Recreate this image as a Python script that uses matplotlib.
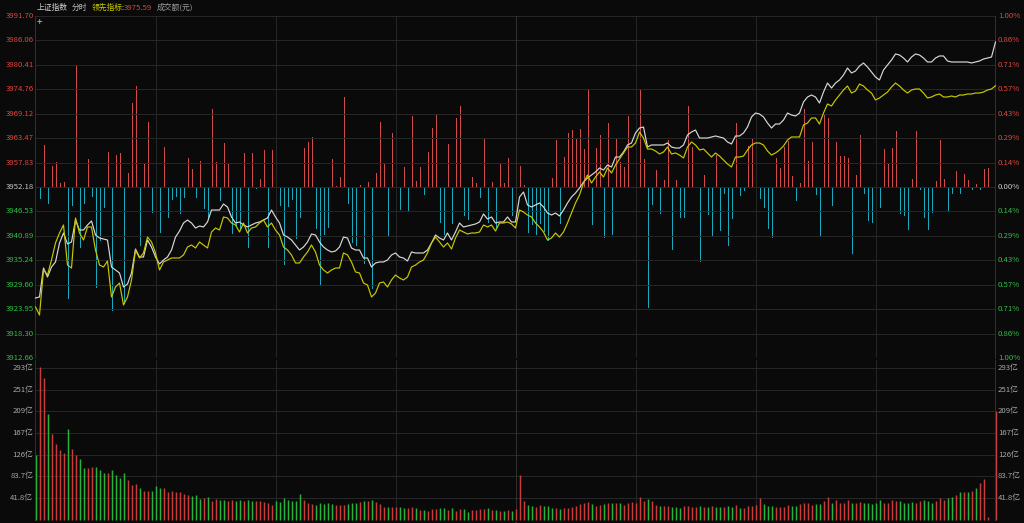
import matplotlib
matplotlib.use('Agg')
import matplotlib.pyplot as plt
import matplotlib.transforms as mtrans
import numpy as np

plt.rcParams['font.family'] = ['Noto Sans CJK SC', 'DejaVu Sans']

# ---------------- data ----------------
prev_close = 3952.18
price_ticks = [3991.70, 3986.06, 3980.41, 3974.76, 3969.12, 3963.47, 3957.83, 3952.18,
               3946.53, 3940.89, 3935.24, 3929.60, 3923.95, 3918.30, 3912.66]
pct_labels = ['1.00%', '0.86%', '0.71%', '0.57%', '0.43%', '0.29%', '0.14%', '0.00%',
              '0.14%', '0.29%', '0.43%', '0.57%', '0.71%', '0.86%', '1.00%']
vol_ticks = [293.0, 251.1, 209.3, 167.4, 125.6, 83.7, 41.86]
vol_labels = ['293亿', '251亿', '209亿', '167亿', '126亿', '83.7亿', '41.8亿']
time_labels = ['09:30', '10:30', '11:30/13:00', '14:00', '15:00']
time_label_minutes = [0, 60, 120, 180, 240]
leading_value = '3975.59'

price = [
 3926.53, 3926.76, 3933.46, 3931.38, 3933.69, 3934.85, 3939.24, 3941.55, 3939.01, 3939.47,
 3944.55, 3942.24, 3942.24, 3943.40, 3944.32, 3941.09, 3940.39, 3940.16, 3939.93, 3933.69,
 3933.00, 3932.31, 3929.07, 3929.76, 3932.31, 3937.85, 3936.00, 3936.00, 3939.93, 3938.31,
 3936.00, 3934.39, 3935.31, 3936.00, 3937.62, 3940.62, 3942.01, 3943.86, 3944.55, 3943.86,
 3942.70, 3943.17, 3942.94, 3944.09, 3946.86, 3946.86, 3946.86, 3948.25, 3947.56, 3945.25,
 3943.86, 3944.09, 3943.40, 3942.94, 3943.40, 3943.86, 3944.09, 3944.55, 3945.02, 3946.86,
 3945.25, 3943.86, 3941.09, 3940.62, 3939.93, 3938.78, 3937.62, 3938.31, 3939.47, 3941.32,
 3941.09, 3939.47, 3938.31, 3937.62, 3937.16, 3937.39, 3938.31, 3940.62, 3940.39, 3938.08,
 3937.62, 3937.62, 3935.77, 3935.77, 3933.69, 3934.62, 3934.85, 3934.85, 3935.31, 3936.47,
 3936.93, 3936.00, 3935.77, 3935.08, 3937.16, 3936.93, 3936.93, 3936.93, 3937.62, 3939.24,
 3941.09, 3940.39, 3939.93, 3941.55, 3939.93, 3941.78, 3943.86, 3942.94, 3943.17, 3943.40,
 3943.63, 3944.09, 3945.94, 3944.78, 3945.25, 3943.86, 3944.09, 3944.09, 3945.25, 3944.09,
 3944.09, 3949.87, 3951.02, 3948.02, 3947.56, 3948.02, 3948.48, 3947.56, 3946.17, 3945.71,
 3946.17, 3945.48, 3946.86, 3948.48, 3949.87, 3950.79, 3951.95, 3953.34, 3954.26, 3954.95,
 3955.65, 3956.57, 3956.11, 3957.26, 3956.80, 3959.11, 3959.11, 3960.27, 3961.89, 3962.35,
 3964.66, 3965.81, 3966.05, 3961.42, 3961.89, 3961.89, 3961.89, 3961.89, 3962.35, 3961.42,
 3961.19, 3961.19, 3961.89, 3964.20, 3964.89, 3965.35, 3963.50, 3963.50, 3963.50, 3963.74,
 3963.97, 3963.74, 3963.50, 3962.58, 3962.12, 3963.97, 3963.97, 3964.66, 3966.05, 3968.36,
 3969.28, 3969.05, 3968.36, 3966.97, 3965.81, 3966.74, 3966.74, 3967.66, 3969.28, 3968.82,
 3968.59, 3969.28, 3971.82, 3972.98, 3973.44, 3972.98, 3971.59, 3974.13, 3976.21, 3975.06,
 3976.21, 3976.91, 3978.06, 3979.68, 3978.53, 3978.99, 3980.14, 3980.84, 3979.91, 3978.76,
 3977.60, 3976.91, 3979.22, 3980.37, 3981.53, 3982.92, 3982.69, 3981.99, 3981.07, 3982.22,
 3982.92, 3982.69, 3981.99, 3981.07, 3981.07, 3981.99, 3982.46, 3982.46, 3981.30, 3981.07,
 3981.07, 3981.07, 3981.07, 3981.07, 3980.84, 3981.07, 3981.30, 3981.76, 3981.99, 3982.22,
 3985.69]

leading = [
 3924.45, 3922.60, 3933.00, 3931.84, 3935.31, 3939.24, 3941.55, 3943.40, 3934.15, 3933.46,
 3945.02, 3941.55, 3939.93, 3942.94, 3942.94, 3937.62, 3934.15, 3933.69, 3935.08, 3926.76,
 3929.07, 3929.99, 3924.91, 3926.76, 3930.69, 3937.62, 3935.77, 3936.93, 3940.62, 3939.47,
 3936.93, 3933.00, 3934.85, 3935.31, 3935.77, 3935.77, 3935.77, 3936.47, 3938.31, 3938.78,
 3938.08, 3939.47, 3938.78, 3938.08, 3941.78, 3942.70, 3942.24, 3945.25, 3945.02, 3943.86,
 3943.40, 3941.78, 3943.86, 3941.55, 3942.70, 3942.94, 3943.86, 3944.55, 3942.94, 3943.86,
 3942.24, 3941.09, 3938.31, 3937.62, 3936.47, 3934.62, 3934.62, 3936.00, 3937.16, 3938.78,
 3937.16, 3934.15, 3933.00, 3932.31, 3933.00, 3933.46, 3933.46, 3936.93, 3936.47, 3934.85,
 3932.54, 3932.31, 3929.99, 3929.53, 3926.76, 3927.68, 3929.99, 3930.23, 3929.07, 3930.69,
 3931.84, 3931.15, 3930.69, 3931.38, 3933.69, 3934.15, 3934.85, 3935.31, 3936.93, 3939.24,
 3940.62, 3939.47, 3938.31, 3939.24, 3937.85, 3940.39, 3942.24, 3941.78, 3941.32, 3941.55,
 3941.55, 3941.78, 3943.40, 3942.94, 3943.40, 3942.01, 3943.86, 3943.86, 3944.09, 3943.63,
 3942.70, 3946.86, 3946.40, 3945.71, 3945.25, 3943.86, 3942.94, 3941.78, 3939.93, 3940.39,
 3941.55, 3940.62, 3941.78, 3943.86, 3946.17, 3948.48, 3950.33, 3953.10, 3954.95, 3953.10,
 3954.49, 3955.65, 3954.49, 3956.57, 3955.42, 3957.26, 3958.65, 3960.04, 3961.42, 3961.42,
 3962.35, 3964.89, 3963.50, 3960.96, 3960.96, 3960.50, 3959.81, 3960.27, 3961.42, 3959.81,
 3960.04, 3959.58, 3958.88, 3961.42, 3962.58, 3961.89, 3960.73, 3960.96, 3960.04, 3959.11,
 3960.04, 3959.34, 3958.42, 3957.50, 3956.80, 3959.11, 3959.11, 3959.34, 3960.73, 3961.89,
 3962.35, 3962.35, 3961.89, 3960.50, 3959.58, 3960.04, 3960.73, 3961.66, 3963.04, 3963.74,
 3963.74, 3963.74, 3966.51, 3966.97, 3968.13, 3968.13, 3966.74, 3969.28, 3971.36, 3970.90,
 3972.29, 3973.44, 3974.60, 3975.52, 3973.90, 3974.37, 3975.98, 3975.52, 3974.60, 3973.90,
 3972.29, 3972.75, 3973.44, 3974.13, 3975.29, 3976.21, 3975.52, 3974.60, 3973.90, 3974.60,
 3974.83, 3974.83, 3973.90, 3972.75, 3972.98, 3973.44, 3973.67, 3972.98, 3972.98, 3973.21,
 3972.98, 3973.44, 3973.44, 3973.67, 3973.67, 3973.90, 3973.90, 3974.13, 3974.60, 3974.83,
 3975.59]

# buy / sell strength bars (indicator units)
strength = [
 0, -11, 42, -16, 21, 25, 4, 5, -111, -18,
 121, -60, -16, 28, -9, -100, -53, -20, 35, -123,
 32, 34, -116, 14, 84, 101, -58, 24, 65, -25,
 -71, -45, 40, -30, -12, -9, -26, -10, 29, 18,
 -10, 26, -21, -30, 78, 25, -13, 44, 23, -46,
 -38, -41, 34, -60, 34, -1, 8, 37, -60, 37,
 -26, -18, -77, -19, -12, -51, -30, 39, 45, 50,
 -41, -98, -47, -40, 28, 1, 10, 90, -16, -55,
 -58, 2, -76, 5, -101, 14, 65, 24, -49, 54,
 22, -22, 20, -23, 71, 6, 20, -7, 35, 59,
 72, -35, -47, 43, -36, 69, 81, -28, -32, 10,
 4, -10, 49, -35, 5, -40, 24, 4, 29, -28,
 0, 21, 2, -45, -37, -47, -36, -44, -53, 9,
 47, -36, 30, 54, 57, 49, 58, 38, 98, -37,
 39, 52, -50, 64, -47, 49, 25, 20, 71, 0,
 11, 98, 28, -120, -17, 17, -26, 7, 47, -62,
 7, -30, -30, 81, 40, 0, -74, 12, -27, -49,
 32, -43, -6, -58, -31, 64, -8, -3, 41, 48,
 10, -11, -20, -41, -50, 29, 19, 40, 46, 11,
 -13, 4, 78, 26, 45, -7, -48, 72, 69, -18,
 45, 31, 31, 29, -66, 12, 52, -6, -33, -35,
 -42, -20, 38, 24, 39, 56, -26, -28, -42, 8,
 56, -2, -30, -42, -25, 6, 47, 8, -24, -6,
 16, -6, 13, 7, -2, 3, -2, 18, 19, 0,
 0]
strength_limit = 171

# turnover, 亿元 per minute
volume = [
 125, 296, 273, 204, 166, 146, 135, 128, 175, 137,
 125, 117, 100, 100, 101, 102, 97, 91, 91, 97,
 86, 80, 91, 77, 67, 69, 62, 55, 56, 56,
 65, 62, 61, 54, 55, 53, 53, 50, 48, 46,
 48, 40, 41, 44, 37, 40, 38, 38, 37, 38,
 37, 39, 36, 38, 37, 36, 36, 35, 33, 28,
 37, 35, 41, 38, 37, 36, 50, 39, 33, 30,
 28, 32, 30, 32, 30, 28, 28, 28, 30, 33,
 32, 34, 36, 36, 38, 34, 30, 24, 24, 24,
 24, 24, 22, 22, 24, 23, 19, 19, 17, 20,
 21, 22, 22, 19, 22, 17, 21, 20, 15, 19,
 19, 21, 21, 23, 19, 19, 17, 17, 19, 17,
 20, 86, 36, 28, 26, 24, 28, 27, 26, 23,
 22, 21, 22, 22, 24, 26, 30, 33, 35, 30,
 27, 28, 30, 33, 33, 32, 32, 28, 33, 34,
 33, 43, 36, 40, 36, 28, 27, 26, 26, 24,
 24, 22, 26, 27, 25, 24, 27, 24, 24, 27,
 24, 24, 24, 26, 24, 28, 22, 22, 26, 27,
 28, 42, 30, 27, 26, 24, 24, 25, 28, 26,
 27, 30, 32, 33, 28, 30, 30, 37, 43, 33,
 39, 33, 33, 38, 33, 33, 35, 33, 33, 30,
 33, 38, 33, 32, 38, 37, 37, 32, 33, 35,
 33, 36, 38, 37, 33, 36, 41, 38, 41, 44,
 48, 54, 53, 54, 55, 62, 70, 79, 6, 0,
 210]
volume_dir = ("grrgrrrrgr" "rggrrgggrg" "gggrrrgrrg" "ggrrrrrrrg" "ggrgrrggrr"
              "ggrggrrrrr" "gggggggrrr" "gggggrrrgg" "grgrgrrrgr" "rggrrgrgrr"
              "rggrgrrggr" "rrrgrgrgrg" "rrrggrrggg" "rgrrrrrrrg" "rrgrgrgrrr"
              "rrrgrrgrrg" "ggrrrrgrgr" "ggrggrgrrr" "rrgggrrrrg" "grrrrggrrg"
              "rrrrgrrggg" "ggrrrrgggg" "rrgggrrrgg" "rgrgrgrrrrr")
vol_max = 308.6

# ---------------- style ----------------
BG = '#0a0a0a'
GRID = '#262626'
EDGE = '#303030'
RED_TXT = '#e0463c'
GRN_TXT = '#2fbf45'
GRAY_TXT = '#a8a8a8'
WHITE_LINE = '#d8d8d8'
YELLOW_LINE = '#c8c800'

W, H = 1024, 523
fig = plt.figure(figsize=(W / 100, H / 100), dpi=100, facecolor=BG)
rect_main = [35 / W, 1 - 358 / H, 960 / W, 342 / H]
rect_vol = [35 / W, 1 - 519.7 / H, 960 / W, 159.7 / H]
XLIM = (-0.125, 239.875)   # puts every minute on a pixel centre
PX = 1 / 1.3889            # one pixel in points

minutes = np.arange(len(price))


def style_axes(a):
    a.set_xlim(*XLIM)
    a.set_xticks([]); a.set_yticks([])
    for k, s in a.spines.items():
        if k in ('left', 'right'):
            s.set_color(EDGE); s.set_linewidth(PX)
        else:
            s.set_visible(False)


# background / strength bars axis
axs = fig.add_axes(rect_main, facecolor=BG)
axs.set_ylim(-strength_limit, strength_limit)
style_axes(axs)

# price axis on top
ax = fig.add_axes(rect_main, facecolor='none')
ax.set_ylim(price_ticks[-1], price_ticks[0])
style_axes(ax)

for p in price_ticks:
    ax.axhline(p, color=GRID, lw=PX, zorder=0)
for m in range(30, 240, 30):
    ax.axvline(m, color=EDGE if m == 120 else GRID, lw=PX, zorder=0)

st = np.array(strength)
pos = st > 0
neg = st < 0
lc1 = axs.vlines(minutes[pos], 0, st[pos], color='#d24b4b', lw=PX)
lc2 = axs.vlines(minutes[neg], 0, st[neg], color='#18aabc', lw=PX)
for lc in (lc1, lc2):
    lc.set_snap(True)
    lc.set_antialiased(False)

ax.plot(minutes, price, color=WHITE_LINE, lw=0.85, zorder=3, clip_on=False)
ax.plot(minutes, leading, color=YELLOW_LINE, lw=0.85, zorder=4, clip_on=False)

# price / percent labels
tr_l = mtrans.blended_transform_factory(ax.transAxes, ax.transData)
fs = 5.6
for p, pl in zip(price_ticks, pct_labels):
    if abs(p - prev_close) < 0.01:
        c = '#c8c8c8'
    elif p > prev_close:
        c = RED_TXT
    else:
        c = GRN_TXT
    ax.text(-0.0015, p, f'{p:.2f}', transform=tr_l, ha='right', va='center',
            color=c, fontsize=fs, clip_on=False)
    ax.text(1.003, p, pl, transform=tr_l, ha='left', va='center',
            color=c, fontsize=fs, clip_on=False)

# volume panel
axv = fig.add_axes(rect_vol, facecolor='none')
axv.set_ylim(0, vol_max)
style_axes(axv)
for v in vol_ticks:
    axv.axhline(v, color=GRID, lw=PX, zorder=0)
for m in range(30, 240, 30):
    axv.axvline(m, color=EDGE if m == 120 else GRID, lw=PX, zorder=0)
axv.axhline(0, color=EDGE, lw=PX)

vol = np.array(volume)
dirs = np.array(list(volume_dir))
r = (dirs == 'r') & (vol > 0)
g = (dirs == 'g') & (vol > 0)
lv1 = axv.vlines(minutes[r], 0, vol[r], color='#c83c3c', lw=1.5 * PX, clip_on=False)
lv2 = axv.vlines(minutes[g], 0, vol[g], color='#27b23b', lw=1.5 * PX, clip_on=False)
for lc in (lv1, lv2):
    lc.set_snap(True)

tr_v = mtrans.blended_transform_factory(axv.transAxes, axv.transData)
for v, lab in zip(vol_ticks, vol_labels):
    axv.text(-0.002, v, lab, transform=tr_v, ha='right', va='center',
             color=GRAY_TXT, fontsize=fs, clip_on=False)
    axv.text(1.003, v, lab, transform=tr_v, ha='left', va='center',
             color=GRAY_TXT, fontsize=fs, clip_on=False)

tr_t = mtrans.blended_transform_factory(axv.transData, axv.transAxes)
for m, lab in zip(time_label_minutes, time_labels):
    axv.text(m, -0.012, lab, transform=tr_t, ha='center', va='top',
             color=GRAY_TXT, fontsize=fs, clip_on=False)

# header
hy = 1 - 7.5 / H
fig.text(37 / W, hy, '上证指数', color='#d0d0d0', fontsize=5.6, va='center')
fig.text(72 / W, hy, '分时', color='#c0c0c0', fontsize=5.6, va='center')
fig.text(92 / W, hy, '领先指标:', color='#cccc00', fontsize=5.6, va='center')
fig.text(124 / W, hy, leading_value, color=RED_TXT, fontsize=5.6, va='center')
fig.text(157 / W, hy, '成交额(元)', color='#a0a0a0', fontsize=5.6, va='center')
fig.text(39 / W, 1 - 21.5 / H, '+', color='#bbbbbb', fontsize=7, ha='center', va='center')

fig.savefig('out.png', dpi=100, facecolor=BG)
